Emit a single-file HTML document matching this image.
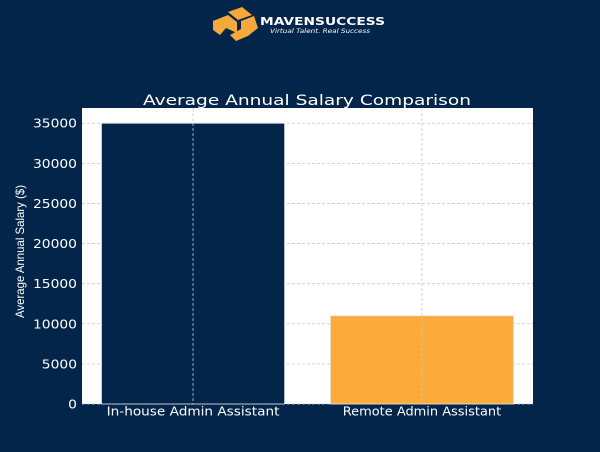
<!DOCTYPE html>
<html><head><meta charset="utf-8"><style>
html,body{margin:0;padding:0;background:#03254a;width:600px;height:452px;overflow:hidden}
svg{display:block;font-family:"DejaVu Sans","Liberation Sans",sans-serif}
</style></head><body>
<svg id="chart" width="600" height="452" viewBox="0 0 600 452">
<rect width="600" height="452" fill="#03254a"/>
<g>
 <polygon points="228,12 242,7 252,15 238,20" fill="#f6a93a"/>
 <polygon points="213,21 228,15 237,22 237,33 226,28 220,35 213,30" fill="#f6a93a"/>
 <polygon points="241,21 254,16 258,28 248,36 236,41 230,35 241,29" fill="#f6a93a"/>
 <text x="260" y="25" font-size="11" font-weight="bold" fill="#ffffff" textLength="125" lengthAdjust="spacingAndGlyphs">MAVENSUCCESS</text>
 <text x="270" y="33" font-size="6" fill="#ffffff" font-style="italic" textLength="100" lengthAdjust="spacingAndGlyphs">Virtual Talent. Real Success</text>
</g>
<text x="143" y="105" font-size="14" fill="#ffffff" textLength="328" lengthAdjust="spacingAndGlyphs">Average Annual Salary Comparison</text>
<rect x="82" y="108" width="451" height="296" fill="#ffffff"/>
<g id="grid"></g>
<g id="bars"></g>
<g id="axes"></g>
<text transform="translate(24,318) rotate(-90)" font-size="12" fill="#ffffff" textLength="133" lengthAdjust="spacingAndGlyphs" font-family="Liberation Sans Narrow, Liberation Sans, sans-serif">Average Annual Salary ($)</text>
</svg>
<script>
const categories = ["In-house Admin Assistant", "Remote Admin Assistant"];
const salaries = [35000, 11000];
const yTicks = [0, 5000, 10000, 15000, 20000, 25000, 30000, 35000];
const barColors = ["#03254a", "#fbab3a"];

const NS = "http://www.w3.org/2000/svg";
const L = 82, R = 533, T = 108, B = 404;
const yMax = 36900;
const xMin = -0.485, xMax = 1.485;
const y = v => B - (v / yMax) * (B - T);
const x = i => L + (i - xMin) / (xMax - xMin) * (R - L);
const bw = 0.8 * (R - L) / (xMax - xMin);
function mk(tag, attrs, parent) {
  const e = document.createElementNS(NS, tag);
  for (const k in attrs) e.setAttribute(k, attrs[k]);
  parent.appendChild(e);
  return e;
}
const grid = document.getElementById("grid");
const bars = document.getElementById("bars");
const axes = document.getElementById("axes");

yTicks.forEach(t => {
  const g = mk("line", {x1: L, x2: R, y1: y(t), y2: y(t), stroke: "#c8c8c8", "stroke-width": 0.8, "stroke-dasharray": "3,2"}, grid);
  
  
  const s = String(t);
  const lab = mk("text", {x: L - 5, y: y(t) + 4.5, "text-anchor": "end", "font-size": 12, fill: "#ffffff", textLength: s.length * 8.8, lengthAdjust: "spacingAndGlyphs"}, axes);
  lab.textContent = s;
  
  
});
categories.forEach((c, i) => {
  const b = mk("rect", {x: x(i) - bw / 2, y: y(salaries[i]), width: bw, height: B - y(salaries[i]), fill: barColors[i], stroke: "#e6e6ea", "stroke-width": 0.8}, bars);
  
  
  const g = mk("line", {x1: x(i), x2: x(i), y1: T, y2: B, stroke: "#c8c8c8", "stroke-width": 0.8, "stroke-dasharray": "3,2"}, axes);
  
  
  const lab = mk("text", {x: x(i), y: B + 11.5, "text-anchor": "middle", "font-size": 12, fill: "#ffffff", textLength: c.length * 7.2, lengthAdjust: "spacingAndGlyphs"}, axes);
  lab.textContent = c;
  
  
});
</script>
</body></html>
